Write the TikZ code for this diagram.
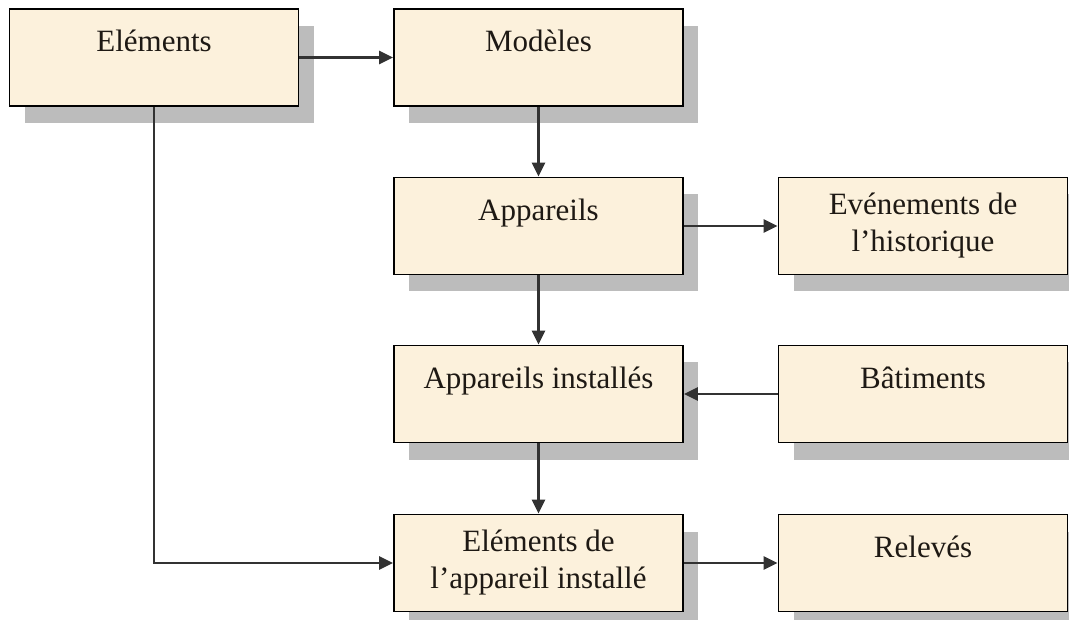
\documentclass[tikz,border=0pt]{standalone}
\usepackage{fontspec}
\setmainfont{Liberation Serif}
\usetikzlibrary{arrows.meta,shadows}
\definecolor{paper}{RGB}{252,241,220}
\definecolor{shade}{RGB}{188,188,188}
\definecolor{linec}{RGB}{50,50,50}
\definecolor{inkc}{RGB}{30,25,20}
\begin{document}
\begin{tikzpicture}[x=1pt,y=-1pt,
  box/.style={draw=black, line width=1.8pt, fill=paper,
    minimum width=289pt, minimum height=97pt, inner sep=0pt,
    align=center, font=\fontsize{31}{37}\selectfont, text=inkc,
    drop shadow={shadow xshift=15pt, shadow yshift=-17pt, fill=shade, opacity=1}},
  conn/.style={draw=linec, line width=2.4pt, -{Triangle[length=14pt,width=13pt]}}]
\useasboundingbox[fill=white] (0,0) rectangle (1069,620);

\node[box] (E1) at (154,57.5)   {\strut Eléments\\[-11pt]\strut};
\node[box] (M)  at (538.5,57.5) {\strut Modèles\\[-11pt]\strut};
\node[box] (A)  at (538.5,226)  {\strut Appareils\\[-11pt]\strut};
\node[box] (H)  at (923,226)    {\strut Evénements de\\\strut l’historique};
\node[box] (AI) at (538.5,394)  {\strut Appareils installés\\[-11pt]\strut};
\node[box] (B)  at (923,394)    {\strut Bâtiments\\[-11pt]\strut};
\node[box] (EA) at (538.5,563)  {\strut Eléments de\\\strut l’appareil installé};
\node[box] (R)  at (923,563)    {\strut Relevés\\[-11pt]\strut};

\draw[conn] (E1.east) -- (M.west);
\draw[conn] (M.south) -- (A.north);
\draw[conn] (A.east) -- (H.west);
\draw[conn] (A.south) -- (AI.north);
\draw[conn] (B.west) -- (AI.east);
\draw[conn] (AI.south) -- (EA.north);
\draw[conn] (E1.south) |- (EA.west);
\draw[conn] (EA.east) -- (R.west);
\end{tikzpicture}
\end{document}
